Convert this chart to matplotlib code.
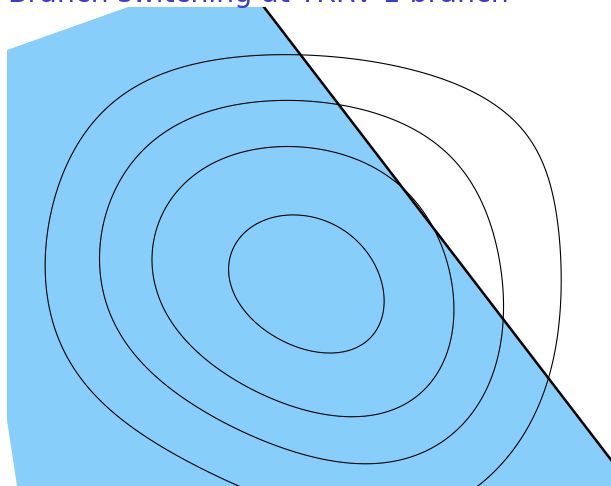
import numpy as np
import matplotlib
matplotlib.use("Agg")
import matplotlib.pyplot as plt

# feasible region (clipped by the axes)
region_x = [0.246, 0.07, 0.07, 2.349, 6.694]
region_y = [-0.5, 0.66, 4.36, 5.169, -0.5]

# constraint line
line_x = [2.349, 6.694]
line_y = [5.169, -0.5]

# points, inner to outer
c1_x = [3.00, 3.40, 3.65, 3.83, 3.88, 3.78, 3.50, 3.20, 2.85, 2.55, 2.35, 2.27, 2.32, 2.50, 2.75]
c1_y = [2.71, 2.58, 2.36, 2.01, 1.71, 1.43, 1.30, 1.31, 1.41, 1.61, 1.86, 2.16, 2.46, 2.64, 2.72]
c2_x = [2.70, 3.20, 3.70, 4.05, 4.32, 4.48, 4.50, 4.40, 4.18, 3.85, 3.45, 3.00, 2.45,
        2.00, 1.70, 1.57, 1.60, 1.75, 2.05, 2.40]
c2_y = [3.34, 3.33, 3.21, 2.96, 2.56, 2.11, 1.66, 1.21, 0.88, 0.74, 0.74, 0.84, 1.04,
        1.37, 1.72, 2.11, 2.56, 2.94, 3.21, 3.32]
c3_x = [2.95, 3.55, 4.10, 4.55, 4.85, 5.00, 5.02, 4.92, 4.70, 4.35, 3.85, 3.30, 2.75,
        2.20, 1.70, 1.30, 1.07, 1.02, 1.08, 1.25, 1.60, 2.20]
c3_y = [3.83, 3.79, 3.61, 3.26, 2.81, 2.26, 1.76, 1.16, 0.66, 0.34, 0.24, 0.28, 0.41,
        0.61, 0.91, 1.31, 1.76, 2.21, 2.71, 3.16, 3.56, 3.79]
c4_x = [3.05, 3.80, 4.45, 5.00, 5.40, 5.58, 5.62, 5.52, 5.30, 5.05, 4.75, 2.34, 1.45,
        0.82, 0.52, 0.45, 0.52, 0.75, 1.20, 1.80, 2.40]
c4_y = [4.31, 4.24, 4.06, 3.76, 3.26, 2.71, 1.96, 1.26, 0.61, 0.26, 0.00, 0.00, 0.56,
        1.06, 1.66, 2.21, 2.81, 3.36, 3.88, 4.18, 4.29]
levels = [0.6, 2.0, 3.6, 6.0]

title = "Branch switching at TRRV-1 branch"


def monomials(x, y, deg=5):
    x = np.asarray(x) - 3.0
    y = np.asarray(y) - 2.0
    return np.stack([x**i * y**(d - i) for d in range(deg + 1) for i in range(d + 1)], axis=-1)


# smooth surface through the read contour points
px = np.concatenate([c1_x, c2_x, c3_x, c4_x])
py = np.concatenate([c1_y, c2_y, c3_y, c4_y])
pz = np.concatenate([np.full(len(c), lv) for c, lv in zip([c1_x, c2_x, c3_x, c4_x], levels)])
coef, *_ = np.linalg.lstsq(monomials(px, py), pz, rcond=None)

fig = plt.figure(figsize=(6.11, 4.86), dpi=100)
ax = fig.add_axes([0, 0, 1, 1 - 7 / 486])

ax.fill(region_x, region_y, color="#87cefa", lw=0)
ax.plot(line_x, line_y, color="black", lw=1.8)

X, Y = np.meshgrid(np.linspace(-0.2, 6.3, 400), np.linspace(-0.3, 5.0, 400))
F = monomials(X, Y) @ coef
ax.contour(X, Y, F, levels=levels, colors="black", linewidths=0.8)

ax.set_xlim(0, 6.11)
ax.set_ylim(0, 4.79)
ax.axis("off")

fig.text(8 / 611, 1 - 2 / 486, title, fontsize=20.5, color="#3b3bcc", va="baseline")

fig.savefig("out.png", dpi=100)
